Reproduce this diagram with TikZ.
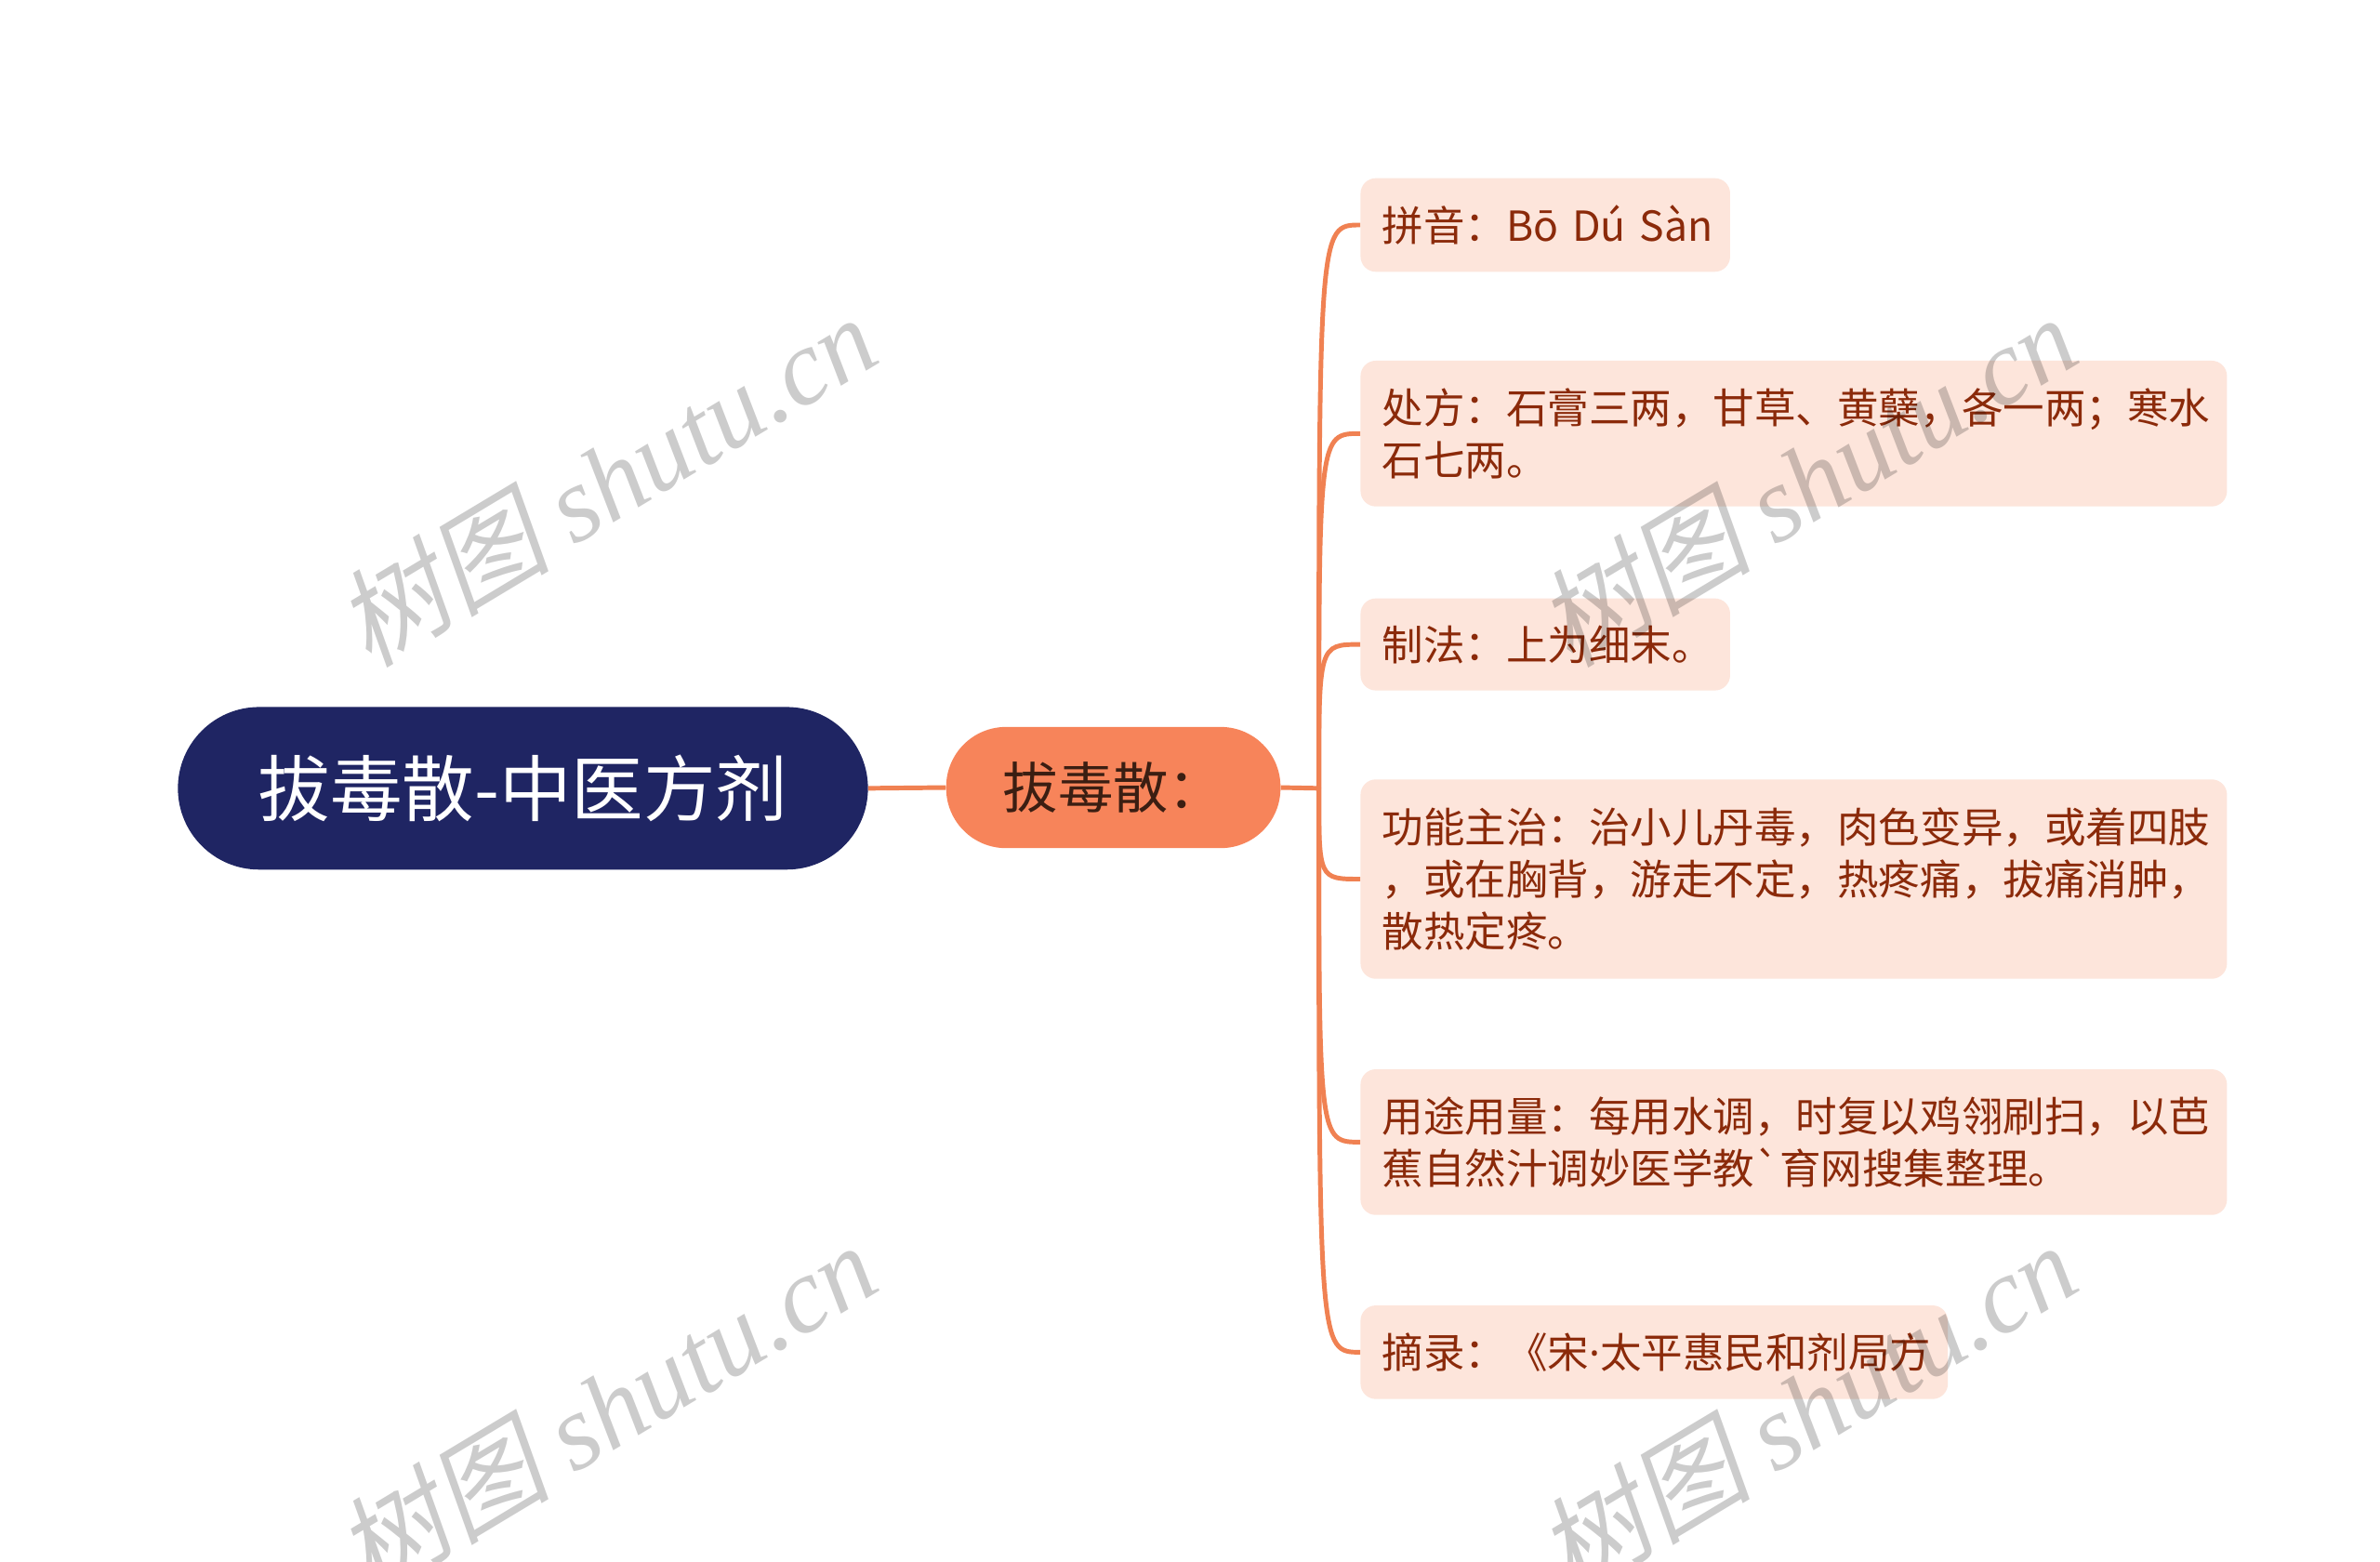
\documentclass[tikz,border=0pt]{standalone}
\usepackage{fontspec}
\setmainfont{Noto Sans CJK SC}
\newfontfamily\wmlatin{Liberation Serif}
\newfontfamily\wmcjk[FakeSlant=0.2]{Noto Sans CJK SC}
\newfontfamily\latinfont{Noto Sans}
\font\btfont="Noto Sans CJK SC" at 27pt
\definecolor{rootfill}{HTML}{1F2563}
\definecolor{subfill}{HTML}{F7845A}
\definecolor{subtext}{HTML}{3B1E12}
\definecolor{leaffill}{HTML}{FDE5DB}
\definecolor{leaftext}{HTML}{8B2A0A}
\definecolor{linecol}{HTML}{F08152}
\tikzset{
  rootbox/.style={fill=rootfill, text=white, rounded corners=53pt, minimum width=450pt, minimum height=106pt, inner sep=0pt, font=\fontsize{47}{50}\selectfont},
  subbox/.style={fill=subfill, text=subtext, rounded corners=39pt, minimum width=218pt, minimum height=79pt, inner sep=0pt, font=\fontsize{36}{40}\selectfont},
  leaf/.style={fill=leaffill, rounded corners=10pt, anchor=north west, inner xsep=14pt, inner ysep=0pt, align=left, text=leaftext, font=\fontsize{27}{34}\selectfont},
  conn/.style={draw=linecol, line width=3pt},
  wm/.style={text=black, opacity=0.2, rotate=31, inner sep=0pt, font=\fontsize{70}{80}\selectfont}
}
\begin{document}
\begin{tikzpicture}[x=1pt,y=-1pt]
\useasboundingbox[fill=white] (0,0) rectangle (1552,1018);
\node[rootbox] (root) at (341,514) {拔毒散-中医方剂};
\node[subbox] (sub) at (726,513.5) {拔毒散：};
\coordinate (j) at (860,514);
\node[leaf, text width=213pt, minimum height=61pt] (l1) at (887,116) {\mbox{拼音：Bō Dú Sàn}};
\node[leaf, text width=537pt, minimum height=95pt] (l2) at (887,235) {处方：石膏三两，甘草、黄蘖，各一两；寒水\\石七两。};
\node[leaf, text width=213pt, minimum height=60pt] (l3) at (887,390) {制法：上为细末。};
\node[leaf, text width=537pt, minimum height=130pt] (l4) at (887,508) {功能主治：治小儿丹毒，肉色变异，或着四肢\\，或在胸背，游走不定，热疼痛，拔痛消肿，\\散热定疼。};
\node[leaf, text width=537pt, minimum height=95pt] (l5) at (887,697) {用途用量：每用水调，时复以鸡翎刷扫，以芭\\蕉自然汁调妙医学教{\btfont `}育网搜集整理。};
\node[leaf, text width=355pt, minimum height=61pt] (l6) at (887,851) {\mbox{摘录：《宋{\latinfont ·}太平惠民和剂局方}};
\draw[conn] (root.east) -- (sub.west);
\draw[conn] (sub.east) -- (j);
\foreach \n in {l1,l2,l3,l4,l5,l6}{
  \draw[conn] (j) .. controls (j |- \n.west) .. (\n.west);
}
\node[wm] (w1) at (395,313) {{\wmcjk 树图} {\wmlatin\itshape shutu.cn}};
\node[wm] (w2) at (1178,313) {{\wmcjk 树图} {\wmlatin\itshape shutu.cn}};
\node[wm] (w3) at (395,918) {{\wmcjk 树图} {\wmlatin\itshape shutu.cn}};
\node[wm] (w4) at (1178,918) {{\wmcjk 树图} {\wmlatin\itshape shutu.cn}};
\end{tikzpicture}
\end{document}
